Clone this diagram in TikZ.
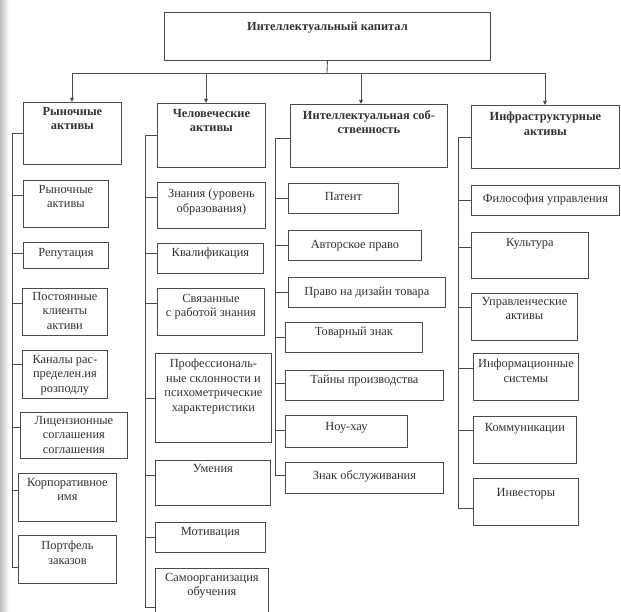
\documentclass[tikz,border=0pt]{standalone}
\usepackage{fontspec}
\setmainfont{Liberation Serif}
\usetikzlibrary{arrows.meta}
\definecolor{inkline}{RGB}{75,75,75}
\definecolor{inktext}{RGB}{50,50,50}
\tikzset{
  boxst/.style={draw=inkline, line width=0.85pt, inner sep=0pt, anchor=north west, fill=none},
  txt/.style={text=inktext, font=\fontsize{12.4}{14.5}\selectfont, align=center, inner sep=1pt, anchor=north},
  hdr/.style={txt, font=\fontsize{12.4}{14.5}\selectfont\bfseries},
  ln/.style={draw=inkline, line width=0.85pt},
  arr/.style={ln, -{Triangle[length=4pt,width=3.6pt]}}
}
% name, x1, y1, x2, y2, text-style, text, text-shift
\newcommand\kbox[8]{%
  \node[boxst, minimum width={#4pt-#2pt}, minimum height={#5pt-#3pt}] (#1) at (#2,#3) {};
  \node[#6] (#1t) at ([yshift=-#8pt]#1.north) {#7};}
% node, spine x, y
\newcommand\klink[3]{\draw[ln] (#2,#3) -- (#1.west |- #2,#3);}
\begin{document}
\begin{tikzpicture}[x=1pt,y=-1pt]
\useasboundingbox (0,0) rectangle (621,612);
\fill[left color=black!25, right color=white] (0,0) rectangle (9,612);

% top
\kbox{top}{164}{12}{490}{60}{hdr}{Интеллектуальный капитал}{9}
\coordinate (bus) at (327,73);
\coordinate (b1) at (72,73);
\coordinate (b2) at (206,73);
\coordinate (b3) at (361,73);
\coordinate (b4) at (545,73);
\draw[ln] (top.south) -- (bus);
\draw[ln] (b1) -- (b4);

% headers
\kbox{h1}{23}{102}{121}{164}{hdr}{Рыночные\\активы}{4}
\kbox{h2}{157}{103}{265}{167}{hdr}{Человеческие\\активы}{5}
\kbox{h3}{290}{104}{447}{167}{hdr}{Интеллектуальная соб-\\ственность}{5}
\kbox{h4}{471}{105}{619}{168}{hdr}{Инфраструктурные\\активы}{6}
\draw[arr] (b1) -- (b1 |- h1.north);
\draw[arr] (b2) -- (b2 |- h2.north);
\draw[arr] (b3) -- (b3 |- h3.north);
\draw[arr] (b4) -- (b4 |- h4.north);

% column 1
\draw[ln] (h1.west |- 12,133) -| (12,567);
\kbox{a1}{23}{180}{108}{227}{txt}{Рыночные\\активы}{4}
\kbox{a2}{23}{242}{108}{268}{txt}{Репутация}{5}
\kbox{a3}{22}{288}{107}{335}{txt}{Постоянные\\клиенты\\активи}{3}
\kbox{a4}{22}{350}{107}{398}{txt}{Каналы рас-\\пределен.ия\\розподлу}{4}
\kbox{a5}{20}{412}{127}{458}{txt}{Лицензионные\\соглашения\\соглашения}{3}
\kbox{a6}{18}{473}{116}{521}{txt}{Корпоративное\\имя}{4}
\kbox{a7}{18}{535}{116}{583}{txt}{Портфель\\заказов}{5}
\klink{a1}{12}{195}
\klink{a2}{12}{253}
\klink{a3}{12}{303}
\klink{a4}{12}{364}
\klink{a5}{12}{427}
\klink{a6}{12}{490}
\klink{a7}{12}{567}

% column 2
\draw[ln] (h2.west |- 145,135) -| (145,607);
\kbox{c1}{157}{182}{265}{228}{txt}{Знания (уровень\\образования)}{6}
\kbox{c2}{157}{243}{263}{273}{txt}{Квалификация}{4}
\kbox{c3}{157}{288}{264}{335}{txt}{Связанные\\с работой знания}{5}
\kbox{c4}{155}{353}{271}{442}{txt}{Профессиональ-\\ные склонности и\\психометрические\\характеристики}{5}
\kbox{c5}{155}{460}{270}{505}{txt}{Умения}{3}
\kbox{c6}{155}{522}{265}{552}{txt}{Мотивация}{4}
\kbox{c7}{155}{568}{268}{616}{txt}{Самоорганизация\\обучения}{4}
\klink{c1}{145}{197}
\klink{c2}{145}{253}
\klink{c3}{145}{303}
\klink{c4}{145}{398}
\klink{c5}{145}{475}
\klink{c6}{145}{537}
\klink{c7}{145}{607}

% column 3
\draw[ln] (h3.west |- 275,138) -| (275,475);
\kbox{p1}{288}{183}{398}{213}{txt}{Патент}{8}
\kbox{p2}{288}{230}{421}{260}{txt}{Авторское право}{9}
\kbox{p3}{288}{277}{445}{307}{txt}{Право на дизайн товара}{9}
\kbox{p4}{285}{322}{422}{352}{txt}{Товарный знак}{4}
\kbox{p5}{285}{370}{443}{400}{txt}{Тайны производства}{4}
\kbox{p6}{285}{415}{407}{447}{txt}{Ноу-хау}{6}
\kbox{p7}{285}{462}{443}{493}{txt}{Знак обслуживания}{7}
\klink{p1}{275}{198}
\klink{p2}{275}{245}
\klink{p3}{275}{292}
\klink{p4}{275}{337}
\klink{p5}{275}{383}
\klink{p6}{275}{430}
\klink{p7}{275}{475}

% column 4
\draw[ln] (h4.west |- 458,137) -| (458,508);
\kbox{i1}{471}{185}{619}{215}{txt}{Философия управления}{8}
\kbox{i2}{471}{232}{588}{278}{txt}{Культура}{5}
\kbox{i3}{471}{293}{577}{340}{txt}{Управленческие\\активы}{3}
\kbox{i4}{473}{353}{578}{400}{txt}{Информационные\\системы}{5}
\kbox{i5}{473}{416}{576}{463}{txt}{Коммуникации}{6}
\kbox{i6}{473}{478}{578}{525}{txt}{Инвесторы}{9}
\klink{i1}{458}{200}
\klink{i2}{458}{247}
\klink{i3}{458}{307}
\klink{i4}{458}{368}
\klink{i5}{458}{430}
\klink{i6}{458}{508}
\end{tikzpicture}
\end{document}
